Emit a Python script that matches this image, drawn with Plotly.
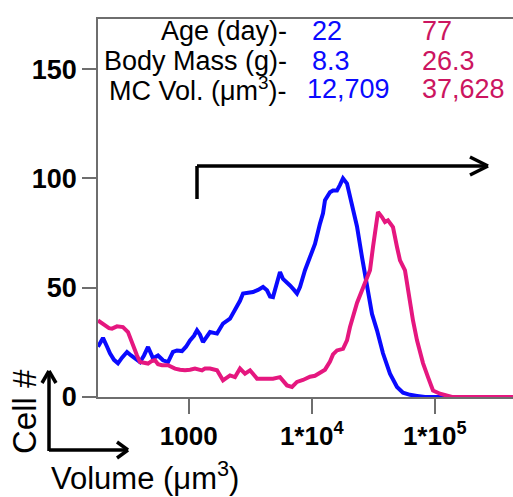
import plotly.graph_objects as go

# ---- data ----
blue_volume = [183, 190, 201, 217, 229, 247, 266, 287, 315, 340, 366, 402, 433, 467, 513, 563,
               618, 679, 745, 803, 882, 951, 1025, 1104, 1168, 1236, 1307, 1409, 1490, 1699,
               1797, 1900, 2167, 2292, 2470, 2613, 2764, 3034, 3333, 3660, 4019, 4331, 4581,
               4845, 5125, 5525, 5843, 6297, 6660, 7178, 7593, 8031, 8820, 9687, 10636, 11682,
               12357, 12827, 14087, 14899, 16057, 16985, 17966, 19364, 21262, 23352, 25640,
               28157, 30918, 33953, 37973, 43292, 49375, 55245, 62974, 71804, 83390, 110400, 433100]
blue_count = [23, 25, 27, 23, 20, 17, 15.4, 18, 20.6, 19, 17.7, 16, 19, 22.9, 17.7, 19,
              16.8, 16, 20.6, 21.3, 21, 23, 25.9, 28, 30.5, 28.5, 25.1, 27.5, 29.7, 29,
              31, 33.6, 35.8, 38, 41.2, 44, 47.3, 47.5, 48, 49, 50.3, 48.8, 46,
              45.7, 50, 57.2, 54, 52.6, 51, 49, 47.3, 50.3, 58, 64, 70, 79.3,
              84, 90, 93.7, 94.5, 94.5, 97, 100, 97.6, 88.4, 78, 64,
              50.3, 38, 30.5, 20, 10.7, 4.6, 2, 1, 0.5, 0, 0, 0]

pink_volume = [183, 197, 209, 225, 238, 261, 292, 321, 340, 353, 380, 402, 433, 467, 503, 532,
               563, 607, 679, 731, 774, 850, 933, 1025, 1125, 1283, 1357, 1490, 1699, 1900,
               2167, 2379, 2613, 2869, 3151, 3593, 4331, 4845, 5525, 5954, 6297, 6914, 7593,
               8495, 9687, 10636, 11682, 12827, 14087, 14899, 16057, 17966, 19364, 20482,
               23352, 26126, 29785, 31505, 33325, 34594, 37263, 39418, 41699, 45793, 49375,
               52227, 57340, 60654, 66610, 71804, 80320, 88200, 96870, 110400, 125900, 138300, 433100]
pink_count = [35, 33.5, 32.8, 31.5, 31.3, 32.3, 32, 29.7, 26, 22.9, 19, 16, 15.5, 15.3, 16.5, 16.8,
              15, 14.5, 14.5, 13.5, 13, 12.5, 12.2, 12.5, 13, 12.2, 13, 13, 12.2, 7.6,
              9.9, 9.1, 13, 10.7, 12.2, 8.4, 8.4, 8.4, 9.1, 7, 5.3, 4.6, 6.9,
              7.8, 9.3, 9.7, 11.2, 12.5, 16.2, 19.5, 21.3, 22, 25.9, 32,
              43, 50.3, 58, 68.6, 79, 84.6, 82.3, 80, 80.8, 77.7, 68.6,
              62.5, 57.9, 48.8, 35, 25.9, 15.5, 9.1, 3, 1.5, 0.8, 0, 0]

x_tick_values = [1000, 10000, 100000]
x_tick_labels = ["1000", "1*10<sup>4</sup>", "1*10<sup>5</sup>"]
y_tick_values = [0, 50, 100, 150]

row_labels = ["Age (day)-", "Body Mass (g)-", "MC Vol. (\u03bcm<sup>3</sup>)-"]
young_values = ["22", "8.3", "12,709"]
old_values = ["77", "26.3", "37,628"]

BLUE = "#0a0aff"
PINK_LINE = "#e5177f"
PINK_TEXT = "#cc1560"
FONT = "Liberation Sans, Arial, sans-serif"

W, H = 513, 497
L, R, T, B = 98, 0, 19, 100
PW, PH = W - L - R, H - T - B


def px(x):
    return (x - L) / PW


def py(y):
    return (H - B - y) / PH


fig = go.Figure()
fig.add_trace(go.Scatter(x=blue_volume, y=blue_count, mode="lines",
                         line=dict(color=BLUE, width=4), showlegend=False))
fig.add_trace(go.Scatter(x=pink_volume, y=pink_count, mode="lines",
                         line=dict(color=PINK_LINE, width=4), showlegend=False))

axis_color = "#6e6e6e"
fig.update_layout(
    width=W, height=H,
    margin=dict(l=L, r=R, t=T, b=B),
    plot_bgcolor="white", paper_bgcolor="white",
    font=dict(family=FONT, color="black"),
    xaxis=dict(type="log", range=[2.2626, 5.6366], showgrid=False, zeroline=False,
               showline=True, linecolor=axis_color, linewidth=1.5, mirror=True,
               ticks="outside", ticklen=15, tickwidth=1.5, tickcolor=axis_color,
               tickvals=x_tick_values, ticktext=x_tick_labels,
               tickfont=dict(family=FONT, size=26, color="black", weight="bold")),
    yaxis=dict(range=[0, 172.9], showgrid=False, zeroline=False,
               showline=True, linecolor=axis_color, linewidth=1.5,
               ticks="outside", ticklen=14, tickwidth=1.5, tickcolor=axis_color,
               tickvals=y_tick_values,
               tickfont=dict(family=FONT, size=27, color="black", weight="bold")),
)

ann = []
row_y = [31, 61, 89]
young_x = [310, 310, 305]
for i in range(3):
    ann.append(dict(x=px(289), y=py(row_y[i]), xref="paper", yref="paper", text=row_labels[i],
                    xanchor="right", yanchor="middle", showarrow=False,
                    font=dict(family=FONT, size=27, color="black")))
    ann.append(dict(x=px(young_x[i]), y=py(row_y[i]), xref="paper", yref="paper", text=young_values[i],
                    xanchor="left", yanchor="middle", showarrow=False,
                    font=dict(family=FONT, size=27, color=BLUE)))
    ann.append(dict(x=px(420), y=py(row_y[i]), xref="paper", yref="paper", text=old_values[i],
                    xanchor="left", yanchor="middle", showarrow=False,
                    font=dict(family=FONT, size=27, color=PINK_TEXT)))

ann.append(dict(x=px(24), y=py(412), xref="paper", yref="paper", text="Cell #", textangle=-90,
                xanchor="center", yanchor="middle", showarrow=False,
                font=dict(family=FONT, size=33, color="black")))
ann.append(dict(x=px(145), y=py(476), xref="paper", yref="paper", text="Volume (\u03bcm<sup>3</sup>)",
                xanchor="center", yanchor="middle", showarrow=False,
                font=dict(family=FONT, size=31, color="black")))
fig.update_layout(annotations=ann)

shapes = []


def seg(x0, y0, x1, y1, w=3.5):
    shapes.append(dict(type="line", xref="paper", yref="paper",
                       x0=px(x0), y0=py(y0), x1=px(x1), y1=py(y1),
                       line=dict(color="black", width=w)))


# arrow inside the plot
seg(197, 199, 197, 166)
seg(197, 166, 487, 166)
seg(470, 157, 488, 166)
seg(470, 175, 488, 166)
# axis indicator arrows
seg(49, 451, 49, 372)
seg(42, 383, 49, 371)
seg(56, 383, 49, 371)
seg(49, 450, 127, 450)
seg(117, 442, 128, 450)
seg(117, 458, 128, 450)
fig.update_layout(shapes=shapes)

fig.write_html("out.html", config={"displayModeBar": False},
               post_script="document.body.style.margin='0';document.body.style.overflow='hidden';")
